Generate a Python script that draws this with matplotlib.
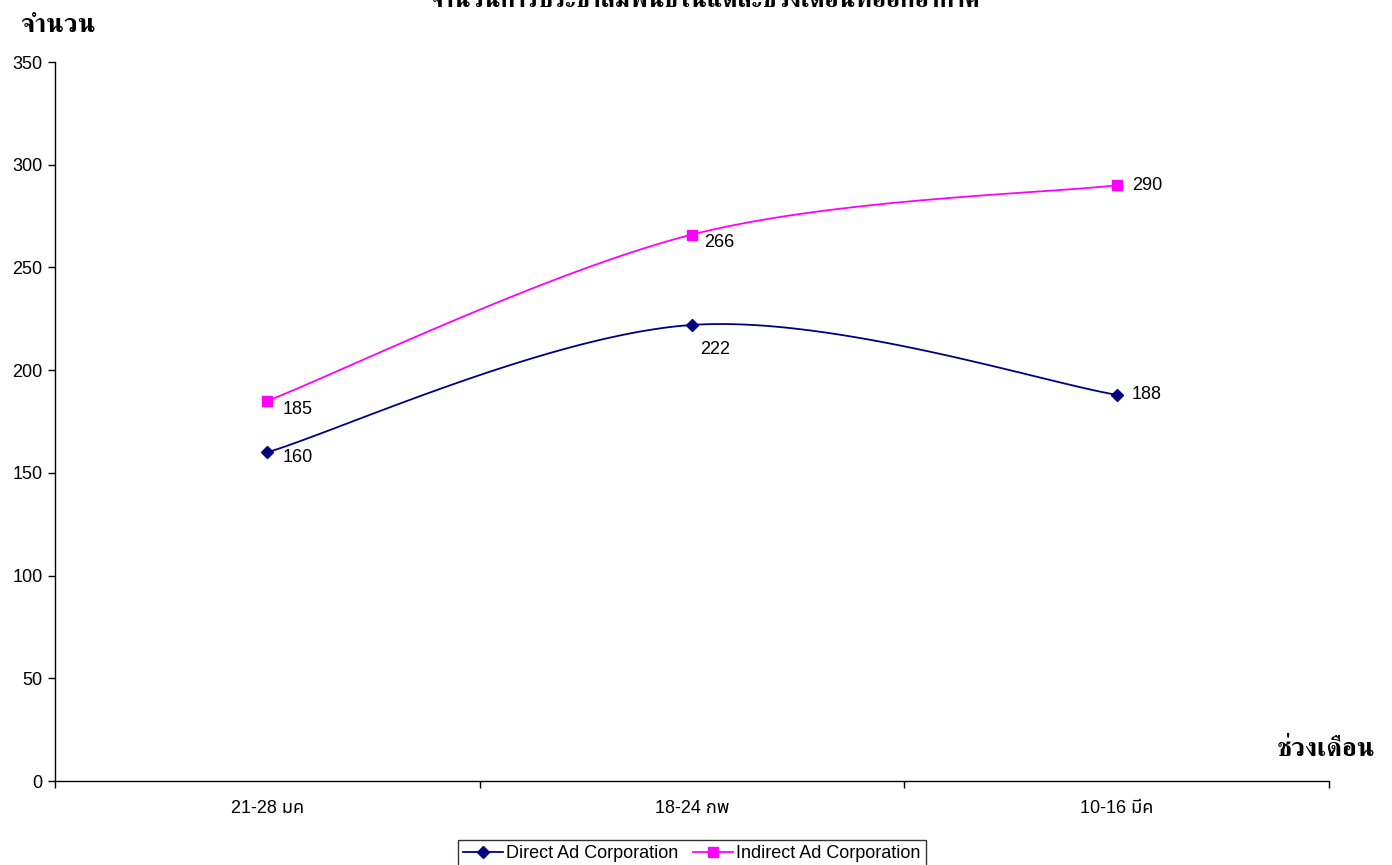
import numpy as np
import matplotlib
matplotlib.use("Agg")
import matplotlib.pyplot as plt

# datos del gráfico
periodos = ["21-28 มค", "18-24 กพ", "10-16 มีค"]
direct = [160, 222, 188]
indirect = [185, 266, 290]
series_nombres = ["Direct Ad Corporation", "Indirect Ad Corporation"]

titulo = "จำนวนการประชาสัมพันธ์ในแต่ละช่วงเดือนที่ออกอากาศ"
etiqueta_y = "จำนวน"
etiqueta_x = "ช่วงเดือน"

fuente_tick = ["Liberation Sans", "Noto Sans Thai", "DejaVu Sans"]
fuente_thai = ["FreeSerif", "Noto Serif Thai", "DejaVu Sans"]

W, H = 1392, 865


# Curva suavizada tipo Catmull-Rom (Bezier), calculada en pixeles para que la forma no dependa de la escala
def suavizar(xs, ys, sx, sy, pasos=60):
    p = np.column_stack([np.array(xs, float) * sx, np.array(ys, float) * sy])
    n = len(p)
    out = []
    for i in range(n - 1):
        p0 = p[i - 1] if i > 0 else p[i]
        p1 = p[i]
        p2 = p[i + 1]
        p3 = p[i + 2] if i + 2 < n else p[i + 1]
        c1 = p1 + (p2 - p0) / 6
        c2 = p2 - (p3 - p1) / 6
        t = np.linspace(0, 1, pasos)[:, None]
        seg = ((1 - t) ** 3) * p1 + 3 * ((1 - t) ** 2) * t * c1 + 3 * (1 - t) * t ** 2 * c2 + t ** 3 * p2
        out.append(seg if i == 0 else seg[1:])
    out = np.vstack(out)
    return out[:, 0] / sx, out[:, 1] / sy


fig = plt.figure(figsize=(W / 100, H / 100), dpi=100)
ax = fig.add_axes([55 / W, 1 - 781 / H, (1329 - 55) / W, (781 - 62) / H])

x = np.arange(len(periodos))
ax.set_xlim(-0.5, len(periodos) - 0.5)
ax.set_ylim(0, 350)

# escala en pixeles por unidad de datos
sx = (1329 - 55) / len(periodos)
sy = (781 - 62) / 350

colores = ["#000080", "#FF00FF"]
marcadores = ["D", "s"]
tamanos = [6, 7.5]
for valores, color, m, ms, nombre in zip([direct, indirect], colores, marcadores, tamanos, series_nombres):
    cx, cy = suavizar(x, valores, sx, sy)
    ax.plot(cx, cy, color=color, lw=1.3, zorder=2)
    ax.plot(x, valores, ls="none", marker=m, ms=ms, color=color, zorder=3)
    ax.plot([], [], color=color, lw=1.3, marker=m, ms=ms, label=nombre)

# etiquetas de valor (desplazamiento en puntos)
desp_direct = [(11, -4), (6, -18), (11, 0)]
desp_indirect = [(11, -6), (9, -6), (11, 0)]
for valores, desp in [(direct, desp_direct), (indirect, desp_indirect)]:
    for xi, v, d in zip(x, valores, desp):
        ax.annotate(str(v), (xi, v), xytext=d, textcoords="offset points",
                    ha="left", va="center", fontsize=13, family=fuente_tick)

for lado in ["top", "right"]:
    ax.spines[lado].set_visible(False)
for lado in ["left", "bottom"]:
    ax.spines[lado].set_color("black")
    ax.spines[lado].set_linewidth(1)

ax.set_yticks(np.arange(0, 351, 50))
ax.tick_params(axis="y", direction="out", length=5, width=1, labelsize=13, pad=4)
ax.set_xticks(x)
ax.set_xticklabels(periodos)
ax.set_xticks(np.arange(-0.5, len(periodos), 1), minor=True)
ax.tick_params(axis="x", which="major", length=0, labelsize=13, pad=14)
ax.tick_params(axis="x", which="minor", direction="out", length=5, width=1)
for lbl in ax.get_xticklabels() + ax.get_yticklabels():
    lbl.set_family(fuente_tick)

fig.text(58 / W, 1 - 26 / H, etiqueta_y, ha="center", va="center",
         fontsize=19, weight="bold", family=fuente_thai)
fig.text(1326 / W, 1 - 750 / H, etiqueta_x, ha="center", va="center",
         fontsize=19, weight="bold", family=fuente_thai)
fig.text(705 / W, 1 - 7 / H, titulo, ha="center", va="baseline",
         fontsize=18, weight="bold", family=fuente_thai)

leg = fig.legend(loc="upper center", bbox_to_anchor=(692 / W, 1 - 840 / H), ncol=2,
                 frameon=True, fancybox=False, handlelength=2.2,
                 handletextpad=0.2, columnspacing=0.8, borderpad=0.3,
                 borderaxespad=0, prop={"family": fuente_tick, "size": 13})
leg.get_frame().set_edgecolor("black")
leg.get_frame().set_linewidth(1)

fig.savefig("out.png", dpi=100)
